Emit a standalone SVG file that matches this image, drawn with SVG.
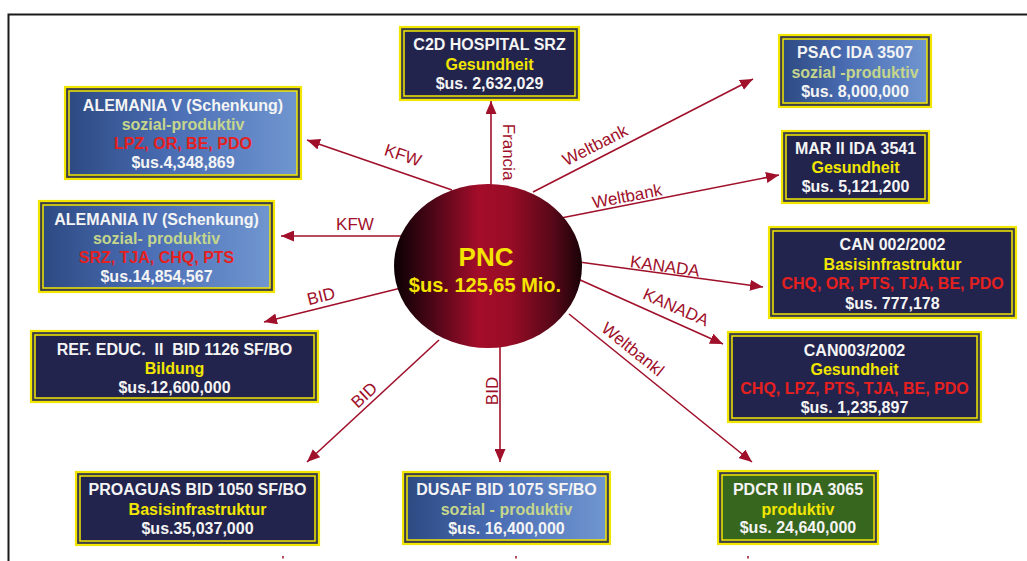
<svg xmlns="http://www.w3.org/2000/svg" width="1027" height="561" viewBox="0 0 1027 561">
<style>
.frame{fill:none;stroke:#1a1a1a;stroke-width:2}
.ob{stroke:#f2e600;stroke-width:2.2}
.ib{stroke:#f2e600;stroke-width:1.5}
.navy{fill:#23244e}
.grad{fill:url(#blueg)}
.green{fill:#37661f}
.band{fill:#3d4048}
.t{font-family:"Liberation Sans",Arial,sans-serif;font-weight:bold;font-size:16px;text-anchor:middle;white-space:pre}
.w{fill:#f4f4f4}
.y{fill:#f2e600}
.g{fill:#c5d68c}
.r{fill:#e5201e}
.edge{stroke:#a0102a;stroke-width:1.6;fill:none;marker-end:url(#ah)}
.lbl{font-family:"Liberation Sans",Arial,sans-serif;font-size:17px;fill:#a0102a;text-anchor:middle}
.pnc{font-family:"Liberation Sans",Arial,sans-serif;font-weight:bold;fill:#f5e400;text-anchor:middle}
</style>
<defs>
<linearGradient id="blueg" x1="0" y1="0" x2="1" y2="0">
<stop offset="0" stop-color="#2d4a82"/>
<stop offset="0.45" stop-color="#4a6db4"/>
<stop offset="1" stop-color="#7096d0"/>
</linearGradient>
<linearGradient id="redg" x1="0" y1="0" x2="1" y2="0">
<stop offset="0" stop-color="#0a0004"/>
<stop offset="0.2" stop-color="#4a0616"/>
<stop offset="0.45" stop-color="#a40d2a"/>
<stop offset="0.62" stop-color="#980c26"/>
<stop offset="0.85" stop-color="#560818"/>
<stop offset="1" stop-color="#180207"/>
</linearGradient>
<marker id="ah" markerUnits="userSpaceOnUse" markerWidth="13" markerHeight="11" refX="13" refY="5.5" orient="auto">
<path d="M0,0 L13,5.5 L0,11 z" fill="#a0102a"/>
</marker>
</defs>
<rect width="1027" height="561" fill="#ffffff"/>
<path class="frame" d="M8.5,561 L8.5,14.5 L1027,14.5"/>

<g id="connectors">
<line class="edge" x1="491" y1="186" x2="491" y2="101"/>
<line class="edge" x1="452" y1="190" x2="307" y2="140"/>
<line class="edge" x1="404" y1="236" x2="281" y2="236"/>
<line class="edge" x1="401" y1="288" x2="264" y2="322"/>
<line class="edge" x1="439" y1="340" x2="307" y2="462"/>
<line class="edge" x1="500" y1="346" x2="500" y2="462"/>
<line class="edge" x1="569" y1="314" x2="752" y2="462"/>
<line class="edge" x1="578" y1="279" x2="723" y2="344"/>
<line class="edge" x1="579" y1="262" x2="763" y2="287"/>
<line class="edge" x1="561" y1="218" x2="779" y2="175"/>
<line class="edge" x1="533" y1="192" x2="753" y2="79"/>
<text class="lbl" transform="translate(509,152) rotate(90)" x="0" y="6">Francia</text>
<text class="lbl" transform="translate(403,155) rotate(18.5)" x="0" y="6">KFW</text>
<text class="lbl" transform="translate(355,224)" x="0" y="6">KFW</text>
<text class="lbl" transform="translate(321,296) rotate(-14)" x="0" y="6">BID</text>
<text class="lbl" transform="translate(364,395) rotate(-43)" x="0" y="6">BID</text>
<text class="lbl" transform="translate(492,391) rotate(-90)" x="0" y="6">BID</text>
<text class="lbl" transform="translate(633,349) rotate(39)" x="0" y="6">Weltbankl</text>
<text class="lbl" transform="translate(676,307) rotate(24)" x="0" y="6">KANADA</text>
<text class="lbl" transform="translate(665,266) rotate(8)" x="0" y="6">KANADA</text>
<text class="lbl" transform="translate(627,196) rotate(-11)" x="0" y="6">Weltbank</text>
<text class="lbl" transform="translate(595,145) rotate(-27)" x="0" y="6">Weltbank</text>
<path d="M283,556 V558.5 M516,556 V558.5 M748,556 V558.5" stroke="#a0102a" stroke-width="1.5"/>
</g>

<g id="pnc">
<ellipse cx="488" cy="266" rx="94" ry="82" fill="url(#redg)"/>
<text class="pnc" x="486" y="266" font-size="26">PNC</text>
<text class="pnc" x="485" y="292" font-size="20">$us. 125,65 Mio.</text>
</g>

<g id="c2d">
<rect class="band ob" x="400" y="27" width="179" height="73"/>
<rect class="navy ib" x="404" y="31" width="171" height="65"/>
<text class="t w" x="489.5" y="50">C2D HOSPITAL SRZ</text>
<text class="t y" x="489.5" y="70">Gesundheit</text>
<text class="t w" x="489.5" y="89">$us. 2,632,029</text>
</g>

<g id="alemania-v">
<rect class="band ob" x="65" y="87" width="236" height="92"/>
<rect class="grad ib" x="69" y="91" width="228" height="84"/>
<text class="t w" x="183" y="111">ALEMANIA V (Schenkung)</text>
<text class="t g" x="183" y="130">sozial-produktiv</text>
<text class="t r" x="183" y="149">LPZ, OR, BE, PDO</text>
<text class="t w" x="183" y="168">$us.4,348,869</text>
</g>

<g id="alemania-iv">
<rect class="band ob" x="39" y="201" width="235" height="91"/>
<rect class="grad ib" x="43" y="205" width="227" height="83"/>
<text class="t w" x="156.5" y="225">ALEMANIA IV (Schenkung)</text>
<text class="t g" x="156.5" y="244">sozial- produktiv</text>
<text class="t r" x="156.5" y="263">SRZ, TJA, CHQ, PTS</text>
<text class="t w" x="156.5" y="282">$us.14,854,567</text>
</g>

<g id="ref-educ">
<rect class="band ob" x="31" y="331" width="287" height="71"/>
<rect class="navy ib" x="35" y="335" width="279" height="63"/>
<text class="t w" x="174.5" y="355">REF. EDUC.  II  BID 1126 SF/BO</text>
<text class="t y" x="174.5" y="374">Bildung</text>
<text class="t w" x="174.5" y="393">$us.12,600,000</text>
</g>

<g id="proaguas">
<rect class="band ob" x="76" y="472" width="243" height="73"/>
<rect class="navy ib" x="80" y="476" width="235" height="65"/>
<text class="t w" x="197.5" y="495">PROAGUAS BID 1050 SF/BO</text>
<text class="t y" x="197.5" y="515">Basisinfrastruktur</text>
<text class="t w" x="197.5" y="534">$us.35,037,000</text>
</g>

<g id="dusaf">
<rect class="band ob" x="403" y="472" width="207" height="72"/>
<rect class="grad ib" x="407" y="476" width="199" height="64"/>
<text class="t w" x="506.5" y="495">DUSAF BID 1075 SF/BO</text>
<text class="t g" x="506.5" y="515">sozial - produktiv</text>
<text class="t w" x="506.5" y="534">$us. 16,400,000</text>
</g>

<g id="pdcr">
<rect class="band ob" x="718" y="471" width="160" height="73"/>
<rect class="green ib" x="722" y="475" width="152" height="65"/>
<text class="t w" x="798" y="495">PDCR II IDA 3065</text>
<text class="t y" x="798" y="515">produktiv</text>
<text class="t w" x="798" y="533">$us. 24,640,000</text>
</g>

<g id="can003">
<rect class="band ob" x="728" y="332" width="253" height="90"/>
<rect class="navy ib" x="732" y="336" width="245" height="82"/>
<text class="t w" x="854.5" y="356">CAN003/2002</text>
<text class="t y" x="854.5" y="375">Gesundheit</text>
<text class="t r" x="854.5" y="394">CHQ, LPZ, PTS, TJA, BE, PDO</text>
<text class="t w" x="854.5" y="413">$us. 1,235,897</text>
</g>

<g id="can002">
<rect class="band ob" x="769" y="227" width="247" height="91"/>
<rect class="navy ib" x="773" y="231" width="239" height="83"/>
<text class="t w" x="892.5" y="250">CAN 002/2002</text>
<text class="t y" x="892.5" y="270">Basisinfrastruktur</text>
<text class="t r" x="892.5" y="289">CHQ, OR, PTS, TJA, BE, PDO</text>
<text class="t w" x="892.5" y="309">$us. 777,178</text>
</g>

<g id="mar-ii">
<rect class="band ob" x="782" y="131" width="147" height="72"/>
<rect class="navy ib" x="786" y="135" width="139" height="64"/>
<text class="t w" x="855.5" y="154">MAR II IDA 3541</text>
<text class="t y" x="855.5" y="173">Gesundheit</text>
<text class="t w" x="855.5" y="192">$us. 5,121,200</text>
</g>

<g id="psac">
<rect class="band ob" x="779" y="35" width="152" height="72"/>
<rect class="grad ib" x="783" y="39" width="144" height="64"/>
<text class="t w" x="855" y="58">PSAC IDA 3507</text>
<text class="t g" x="855" y="78">sozial -produktiv</text>
<text class="t w" x="855" y="97">$us. 8,000,000</text>
</g>
</svg>
